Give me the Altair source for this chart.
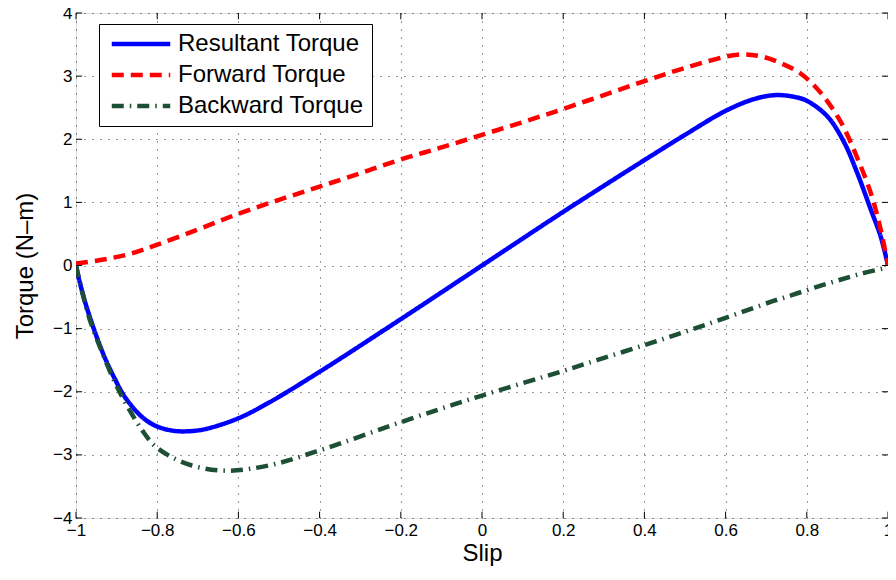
import altair as alt
import pandas as pd

# ---------------- data ----------------
series_names = ["Resultant Torque", "Forward Torque", "Backward Torque"]
series_colors = ["#0000ff", "#ff0000", "#1d4f35"]
series_dashes = [[1, 0], [12, 7], [12, 6, 1.5, 6]]

slip_res = [-1, -0.995, -0.978, -0.953, -0.929, -0.904, -0.88, -0.839, -0.804, -0.758,
            -0.71, -0.674, -0.6, -0.527, -0.404, -0.2, 0, 0.2, 0.28, 0.4,
            0.5, 0.6, 0.672, 0.725, 0.77, 0.8, 0.851, 0.892, 0.924, 0.958, 0.982, 1]
torque_res = [0, -0.15, -0.57, -1.06, -1.46, -1.80, -2.08, -2.39, -2.54, -2.62,
              -2.62, -2.58, -2.42, -2.18, -1.70, -0.85, 0, 0.85, 1.18, 1.67,
              2.07, 2.45, 2.64, 2.70, 2.67, 2.61, 2.36, 1.95, 1.47, 0.88, 0.46, 0]

slip_fwd = [-1, -0.936, -0.87, -0.8, -0.7, -0.6, -0.5, -0.4, -0.3, -0.2, -0.1, 0,
            0.1, 0.2, 0.3, 0.4, 0.5, 0.63, 0.689, 0.738, 0.787, 0.835, 0.884,
            0.924, 0.958, 0.982, 1]
torque_fwd = [0.03, 0.09, 0.18, 0.33, 0.57, 0.82, 1.04, 1.25, 1.46, 1.68, 1.87, 2.07,
              2.27, 2.48, 2.70, 2.92, 3.13, 3.34, 3.31, 3.20, 3.03, 2.73, 2.27,
              1.71, 1.14, 0.57, 0]

slip_bwd = [-1, -0.985, -0.968, -0.941, -0.896, -0.836, -0.8, -0.723, -0.633, -0.527,
            -0.41, -0.167, 0, 0.2, 0.283, 0.4, 0.5, 0.6, 0.714, 0.763,
            0.819, 0.875, 0.934, 1]
torque_bwd = [0, -0.41, -0.82, -1.29, -1.96, -2.62, -2.89, -3.15, -3.25, -3.17,
              -2.95, -2.41, -2.06, -1.67, -1.50, -1.26, -1.05, -0.83, -0.57, -0.47,
              -0.35, -0.24, -0.13, -0.03]

x_ticks = [-1, -0.8, -0.6, -0.4, -0.2, 0, 0.2, 0.4, 0.6, 0.8, 1]
y_ticks = [-4, -3, -2, -1, 0, 1, 2, 3, 4]

# ---------------- styling ----------------
FONT = "Liberation Sans"
W, H = 812, 505
tick_len_x = 0.015
tick_len_y = 0.1

x_scale = alt.Scale(domain=[x_ticks[0], x_ticks[-1]], nice=False, zero=False)
y_scale = alt.Scale(domain=[y_ticks[0], y_ticks[-1]], nice=False, zero=False)
color_scale = alt.Scale(domain=series_names, range=series_colors)
dash_scale = alt.Scale(domain=series_names, range=series_dashes)

x_axis = alt.Axis(values=x_ticks, format="~g", title="Slip", grid=True, ticks=False,
                  domain=False, labelFontSize=17, labelFont=FONT, labelColor="black",
                  labelPadding=4, titleFont=FONT, titleFontSize=24, titleFontWeight="normal",
                  titleColor="black", titleY=42, titleBaseline="alphabetic",
                  gridColor="black", gridDash=[1, 7], gridOpacity=0.8, labelFlush=False,
                  labelOverlap=False)
y_axis = alt.Axis(values=y_ticks, format="~g", title="Torque (N\u2013m)", grid=True,
                  ticks=False, domain=False, labelFontSize=17, labelFont=FONT,
                  labelColor="black", labelPadding=4, titleFont=FONT, titleFontSize=24,
                  titleFontWeight="normal", titleColor="black", titleX=-44,
                  titleY=H / 2, titleAngle=-90, titleBaseline="alphabetic",
                  titleAlign="center", gridColor="black", gridDash=[1, 7],
                  gridOpacity=0.8, labelFlush=False, labelOverlap=False)

legend = alt.Legend(title=None, orient="none", legendX=23, legendY=11,
                    symbolType="M-3,0H3", symbolSize=380, symbolStrokeWidth=4.5,
                    labelFontSize=24, labelFont=FONT, labelColor="black",
                    padding=8, strokeColor="black", fillColor="white",
                    rowPadding=7, symbolOffset=22, labelOffset=25, cornerRadius=0,
                    labelLimit=400)


def series_frame(name, xs, ys):
    return pd.DataFrame({"slip": xs, "torque": ys, "series": name})


frames = [series_frame(series_names[0], slip_res, torque_res),
          series_frame(series_names[1], slip_fwd, torque_fwd),
          series_frame(series_names[2], slip_bwd, torque_bwd)]


def line_layer(df):
    return alt.Chart(df).mark_line(strokeWidth=4.5, interpolate="catmull-rom",
                                   strokeCap="butt", clip=True).encode(
        x=alt.X("slip:Q", scale=x_scale, axis=x_axis),
        y=alt.Y("torque:Q", scale=y_scale, axis=y_axis),
        color=alt.Color("series:N", scale=color_scale, legend=legend),
        strokeDash=alt.StrokeDash("series:N", scale=dash_scale, legend=legend),
    )


# inward tick marks (MATLAB style) on all four sides
xt = pd.DataFrame({
    "slip": x_ticks * 2,
    "torque": [y_ticks[0]] * len(x_ticks) + [y_ticks[-1]] * len(x_ticks),
    "torque_end": [y_ticks[0] + tick_len_y] * len(x_ticks) + [y_ticks[-1] - tick_len_y] * len(x_ticks),
})
yt = pd.DataFrame({
    "torque": y_ticks * 2,
    "slip": [x_ticks[0]] * len(y_ticks) + [x_ticks[-1]] * len(y_ticks),
    "slip_end": [x_ticks[0] + tick_len_x] * len(y_ticks) + [x_ticks[-1] - tick_len_x] * len(y_ticks),
})
xtick_layer = alt.Chart(xt).mark_rule(color="black", strokeWidth=1).encode(
    x=alt.X("slip:Q", scale=x_scale, axis=x_axis),
    y=alt.Y("torque:Q", scale=y_scale, axis=y_axis),
    y2="torque_end:Q",
)
ytick_layer = alt.Chart(yt).mark_rule(color="black", strokeWidth=1).encode(
    y=alt.Y("torque:Q", scale=y_scale, axis=y_axis),
    x=alt.X("slip:Q", scale=x_scale, axis=x_axis),
    x2="slip_end:Q",
)

chart = alt.layer(
    line_layer(frames[0]), line_layer(frames[1]), line_layer(frames[2]),
    xtick_layer, ytick_layer,
).properties(
    width=W, height=H,
    autosize=alt.AutoSizeParams(type="none"),
    padding={"left": 68, "top": 5, "right": 0, "bottom": 48},
).configure_view(
    stroke="black", strokeWidth=1
).configure(background="white")

chart.save("out.html", embed_options={"renderer": "svg", "actions": False})
